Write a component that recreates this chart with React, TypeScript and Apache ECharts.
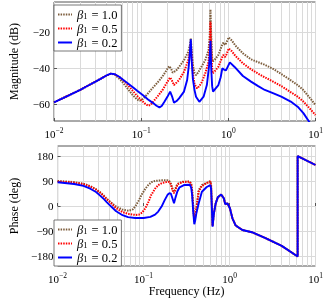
import React, { useEffect, useRef } from 'react';
import * as echarts from 'echarts';

const seriesNames = ['b10', 'b05', 'b02'];
const betaLabels = ['1.0', '0.5', '0.2'];
const magTicks = [-60, -40, -20];
const phaseTicks = [-180, -90, 0, 90, 180];
const minorFreqs = [0.02, 0.03, 0.04, 0.05, 0.06, 0.07, 0.08, 0.09, 0.2, 0.3, 0.4, 0.5, 0.6, 0.7, 0.8, 0.9, 2, 3, 4, 5, 6, 7, 8, 9];

const magB10: [number, number][] = [[0.01,-58.9],[0.015,-54.9],[0.02,-52.0],[0.025,-49.5],[0.03,-47.5],[0.035,-45.7],[0.04,-44.1],[0.045,-43.1],[0.05,-43.7],[0.06,-47.3],[0.07,-51.4],[0.08,-54.9],[0.09,-57.4],[0.096,-58.0],[0.102,-57.5],[0.11,-56.0],[0.12,-53.9],[0.14,-50.2],[0.16,-47.1],[0.18,-43.9],[0.2,-40.4],[0.21,-39.0],[0.22,-40.3],[0.23,-42.5],[0.25,-41.6],[0.272,-39.4],[0.31,-35.7],[0.346,-31.2],[0.362,-27.5],[0.371,-23.6],[0.38,-30.5],[0.392,-38.5],[0.41,-42.8],[0.426,-43.9],[0.45,-42.5],[0.477,-40.3],[0.543,-35.7],[0.593,-30.2],[0.612,-22],[0.624,-7.7],[0.636,-22],[0.652,-34],[0.662,-36.5],[0.705,-35.2],[0.769,-32.8],[0.838,-28.0],[0.875,-26.0],[0.92,-27.3],[0.95,-26.0],[1.01,-23.1],[1.1,-24.9],[1.2,-27.5],[1.47,-31.9],[1.82,-35.2],[2.2,-36.8],[2.62,-38.2],[3.3,-40.6],[4.05,-43.3],[5.0,-46.2],[6.24,-49.4],[7.2,-52.0],[8.09,-54.9],[9,-57.6],[10,-60.4]];
const magB05: [number, number][] = [[0.01,-58.9],[0.015,-54.9],[0.02,-52.0],[0.025,-49.5],[0.03,-47.5],[0.035,-45.7],[0.04,-44.1],[0.045,-43.1],[0.05,-43.5],[0.057,-45.2],[0.065,-47.6],[0.075,-50.9],[0.088,-54.9],[0.1,-57.6],[0.11,-59.5],[0.12,-60.8],[0.128,-60.4],[0.136,-58.8],[0.155,-55.5],[0.176,-52.1],[0.2,-47.6],[0.215,-45.2],[0.226,-47.0],[0.238,-49.4],[0.255,-48.0],[0.272,-46.6],[0.31,-42.1],[0.346,-35.8],[0.362,-31.0],[0.371,-26.4],[0.38,-34],[0.392,-43],[0.41,-49.0],[0.438,-51.2],[0.465,-50.0],[0.498,-47.6],[0.543,-43.0],[0.593,-36.6],[0.612,-28],[0.624,-14.5],[0.636,-30],[0.652,-40],[0.662,-42.9],[0.705,-41.5],[0.769,-39.3],[0.838,-34.8],[0.875,-32.8],[0.92,-33.9],[0.95,-32.6],[1.01,-29.2],[1.1,-30.8],[1.2,-33.2],[1.47,-37.4],[1.82,-40.7],[2.2,-43.1],[2.62,-45.1],[3.3,-47.6],[4.05,-49.9],[5.0,-52.8],[6.24,-55.8],[7.2,-58.3],[8.09,-60.9],[9,-63.4],[10,-65.9]];
const magB02: [number, number][] = [[0.01,-58.9],[0.015,-54.9],[0.02,-52.0],[0.025,-49.5],[0.03,-47.5],[0.035,-45.7],[0.04,-44.1],[0.045,-43.1],[0.05,-43.4],[0.056,-44.8],[0.062,-46.5],[0.07,-48.4],[0.081,-50.7],[0.09,-52.5],[0.105,-55.0],[0.12,-57.3],[0.136,-59.2],[0.15,-60.8],[0.162,-61.7],[0.172,-60.9],[0.184,-58.7],[0.2,-55.9],[0.215,-53.0],[0.226,-55.6],[0.238,-59.1],[0.255,-58.2],[0.272,-56.7],[0.31,-53.0],[0.337,-46.6],[0.351,-39.3],[0.362,-31.5],[0.371,-24.2],[0.38,-36],[0.392,-46],[0.41,-52.3],[0.426,-55.8],[0.465,-58.6],[0.52,-55.8],[0.567,-49.4],[0.6,-39.3],[0.614,-32],[0.624,-25.0],[0.636,-40],[0.652,-50],[0.668,-53.0],[0.716,-51.2],[0.769,-49.4],[0.817,-45.1],[0.853,-40.2],[0.9,-41.0],[0.94,-41.3],[1.04,-36.9],[1.18,-39.4],[1.47,-44.4],[1.82,-47.5],[2.2,-50.0],[2.62,-52.1],[3.3,-54.0],[4.05,-55.8],[5.2,-58.5],[6.24,-61.3],[7.3,-65.0],[8.45,-69.6],[10,-76]];

const phaseTail: [number, number][] = [[0.658,-26],[0.69,9],[0.73,31],[0.8,41],[0.86,27],[0.89,7],[0.95,9],[1.01,-8],[1.08,-44],[1.18,-70],[1.41,-86],[1.82,-94],[2.62,-115],[4.05,-143],[6.2,-181],[6.2,179],[10,147]];
const phaseB10: [number, number][] = [[0.01,89.5],[0.015,86],[0.02,80],[0.024,71],[0.028,60],[0.031,50],[0.034,39],[0.037,27],[0.042,12],[0.048,-2],[0.057,-13],[0.067,-17],[0.075,-12],[0.081,1],[0.088,20],[0.096,43],[0.105,62],[0.114,76],[0.125,86],[0.136,90],[0.16,92],[0.19,92],[0.2,89],[0.208,80],[0.218,60],[0.226,51],[0.235,63],[0.247,79],[0.285,87],[0.345,88],[0.358,80],[0.367,57],[0.378,0],[0.389,-56],[0.397,-42],[0.41,-14],[0.438,57],[0.477,75],[0.543,83],[0.598,89],[0.61,75],[0.618,33],[0.635,-71]];
const phaseB05: [number, number][] = [[0.01,88],[0.015,84.5],[0.02,78.5],[0.024,70],[0.028,58.5],[0.031,48.5],[0.034,37.5],[0.037,25],[0.042,10],[0.048,-8],[0.057,-22],[0.068,-29],[0.08,-32],[0.088,-31],[0.096,-24],[0.105,-8],[0.114,15],[0.123,40],[0.136,62],[0.148,75],[0.165,83],[0.19,87],[0.2,86],[0.208,77],[0.218,55],[0.226,46],[0.235,58],[0.249,78],[0.285,86],[0.345,87],[0.358,78],[0.367,55],[0.378,-2],[0.389,-52],[0.397,-40],[0.41,-12],[0.438,52],[0.477,72],[0.543,82],[0.598,88],[0.61,74],[0.618,32],[0.635,-71]];
const phaseB02: [number, number][] = [[0.01,85],[0.0156,79],[0.02,72],[0.024,62],[0.028,50],[0.031,38],[0.034,27],[0.037,15],[0.042,-2],[0.048,-19],[0.057,-33],[0.066,-40],[0.08,-43],[0.1,-43],[0.12,-39],[0.136,-31],[0.148,-20],[0.162,-2],[0.176,21],[0.19,40],[0.2,46],[0.208,44],[0.218,25],[0.226,10],[0.235,30],[0.247,52],[0.262,67],[0.295,75],[0.345,76],[0.358,66],[0.367,40],[0.378,-20],[0.389,-65],[0.397,-55],[0.41,-28],[0.438,10],[0.477,51],[0.543,68],[0.598,75],[0.61,62],[0.618,20],[0.635,-74]];

const FONT = "'Liberation Serif', 'DejaVu Serif', serif";
const GRID_COLOR = '#dadada';

const styles = [
  { color: '#7d5d3c', width: 2, type: [1.5, 1.1] as any },
  { color: '#ff0000', width: 2, type: [1.5, 1.1] as any },
  { color: '#0000ff', width: 1.9, type: 'solid' as any },
];

const fmtNum = (v: number) => (v < 0 ? '\u2212' + Math.abs(v) : String(v));

export default function App() {
  const ref = useRef<HTMLDivElement>(null);
  useEffect(() => {
    if (!ref.current) return;
    const chart = echarts.init(ref.current, undefined, { renderer: 'svg' });

    const xLabelRich = {
      b: { fontSize: 11, fontFamily: FONT, color: '#000', lineHeight: 13, verticalAlign: 'bottom' },
      s: { fontSize: 7.5, fontFamily: FONT, color: '#000', lineHeight: 8, verticalAlign: 'top' },
    };
    const xFormatter = (v: number) => {
      const e = Math.round(Math.log10(v));
      return `{b|10}{s|${e < 0 ? '\u2212' + -e : e}}`;
    };
    const mkX = (gi: number, withName: boolean) => ({
      type: 'log', logBase: 10, gridIndex: gi, min: 0.01, max: 10,
      axisLine: { show: false },
      axisTick: { show: true, inside: true, length: 3, lineStyle: { color: '#555' } },
      axisLabel: { formatter: xFormatter, rich: xLabelRich, margin: 5 },
      splitLine: { show: true, lineStyle: { color: GRID_COLOR, width: 1 } },
      minorTick: { show: false },
      name: withName ? 'Frequency (Hz)' : '',
      nameLocation: 'middle', nameGap: 16,
      nameTextStyle: { fontFamily: FONT, fontSize: 12, color: '#000' },
    });
    const mkY = (gi: number, min: number, max: number, ticks: number[], name: string) => ({
      type: 'value', gridIndex: gi, min, max,
      axisLine: { show: false },
      axisTick: { show: true, inside: true, length: 3, customValues: ticks, lineStyle: { color: '#555' } },
      axisLabel: { customValues: ticks, formatter: fmtNum, margin: 4, fontFamily: FONT, fontSize: 11, color: '#000' },
      splitLine: { show: true, lineStyle: { color: GRID_COLOR, width: 1 } },
      name, nameLocation: 'middle', nameGap: 34, nameRotate: 90,
      nameTextStyle: { fontFamily: FONT, fontSize: 12, color: '#000' },
    });

    const mkSeries = (i: number, data: [number, number][], gi: number) => ({
      type: 'line', name: seriesNames[i], data, xAxisIndex: gi, yAxisIndex: gi,
      symbol: 'none', showSymbol: false, silent: true, clip: true, z: 3,
      lineStyle: { color: styles[i].color, width: styles[i].width, type: styles[i].type, cap: 'butt' },
      itemStyle: { color: styles[i].color },
    });
    const minorLines = {
      silent: true, symbol: ['none', 'none'], z: 1,
      label: { show: false },
      lineStyle: { color: GRID_COLOR, width: 1, type: 'solid' },
      emphasis: { disabled: true },
      data: minorFreqs.map((f) => ({ xAxis: f })),
    };

    const legendRich = {
      g: { fontStyle: 'italic', fontSize: 12.5, fontFamily: FONT, color: '#000', lineHeight: 12 },
      s: { fontSize: 8.5, fontFamily: FONT, color: '#000', lineHeight: 6, verticalAlign: 'bottom', padding: [0, 1, 0, 0] },
      t: { fontSize: 12.5, fontFamily: FONT, color: '#000', lineHeight: 12 },
    };
    const mkLegend = (top: number) => ({
      data: seriesNames, orient: 'vertical', left: 54, top,
      itemWidth: 14, itemHeight: 8, itemGap: 1,
      padding: [3, 4, 2, 3], backgroundColor: '#fff', borderColor: '#555', borderWidth: 0.8,
      selectedMode: false, z: 10,
      itemStyle: { opacity: 0, borderWidth: 0 },
      formatter: (name: string) => `{g|\u03b2}{s|1}{t| = ${betaLabels[seriesNames.indexOf(name)]}}`,
      textStyle: { fontFamily: FONT, fontSize: 12.5, color: '#000', rich: legendRich },
    });

    const magData = [magB10, magB05, magB02];
    const phaseData = [phaseB10.concat(phaseTail), phaseB05.concat(phaseTail), phaseB02.concat(phaseTail)];

    const series: any[] = [];
    magData.forEach((d, i) => series.push(mkSeries(i, d, 0)));
    phaseData.forEach((d, i) => series.push(mkSeries(i, d, 1)));
    series[0].markLine = minorLines;
    series[3].markLine = minorLines;

    chart.setOption({
      animation: false,
      grid: [
        { left: 49.5, right: 12.5, top: 2, height: 119, show: true, borderColor: '#555', borderWidth: 1, backgroundColor: 'transparent' },
        { left: 49.5, right: 12.5, top: 146, height: 120, show: true, borderColor: '#555', borderWidth: 1, backgroundColor: 'transparent' },
      ],
      xAxis: [mkX(0, false), mkX(1, true)],
      yAxis: [
        mkY(0, -69.2, -3.6, magTicks, 'Magnitude (dB)'),
        mkY(1, -215, 215, phaseTicks, 'Phase (deg)'),
      ],
      legend: [mkLegend(5), mkLegend(220)],
      series,
    });
    return () => chart.dispose();
  }, []);
  return <div ref={ref} style={{ position: 'fixed', left: 0, top: 0, width: 328, height: 300 }} />;
}
